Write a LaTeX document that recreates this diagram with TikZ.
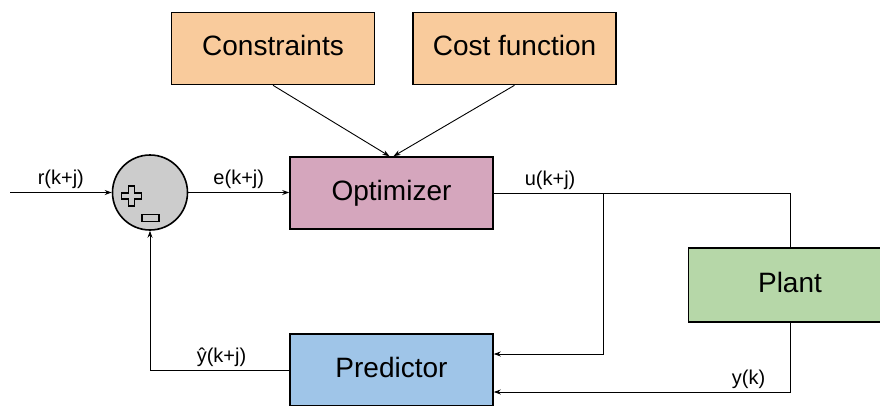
\documentclass[tikz,border=0pt]{standalone}
\usepackage{fontspec}
\setmainfont{Liberation Sans}
\usetikzlibrary{arrows.meta}

\definecolor{orangefill}{HTML}{F9CB9C}
\definecolor{optfill}{HTML}{D5A6BD}
\definecolor{plantfill}{HTML}{B6D7A8}
\definecolor{predfill}{HTML}{9FC5E8}
\definecolor{sumfill}{HTML}{CCCCCC}

\tikzset{
  block/.style={draw, line width=1.6pt, minimum width=203pt, minimum height=72pt,
                text height=20pt, text depth=6pt, font=\fontsize{28}{32}\selectfont},
  wire/.style={line width=0.9pt},
  sig/.style={wire, -{Stealth[length=7pt,width=5pt]}},
  lbl/.style={font=\fontsize{20}{24}\selectfont},
  signmark/.style={line width=1.1pt},
}

\begin{document}
\begin{tikzpicture}[x=1pt,y=-1pt]
	\useasboundingbox (0,0) rectangle (880,405);
	\clip (0,0) rectangle (880,405);
	%% blocks
	\node[block, fill=orangefill] (cons) at (273,48.5) {Constraints};
	\node[block, fill=orangefill] (cost) at (514.5,48.5) {Cost function};
	\node[block, fill=optfill] (opt) at (391.5,193) {Optimizer};
	\node[block, fill=plantfill, minimum height=74pt] (plant) at (790,285) {Plant};
	\node[block, fill=predfill] (pred) at (391.5,370) {Predictor};
	%% summing junction
	\node[circle, draw, line width=1.6pt, fill=sumfill, minimum size=75pt] (sum) at (150,192.5) {};
	\draw[signmark] ([shift={(-18.5,3.5)}]sum.center) ++(-3,-10) -- ++(6,0) -- ++(0,7) -- ++(7,0)
	  -- ++(0,6) -- ++(-7,0) -- ++(0,7) -- ++(-6,0) -- ++(0,-7) -- ++(-7,0) -- ++(0,-6) -- ++(7,0) -- cycle;
	\draw[signmark] ([shift={(-8,22)}]sum.center) rectangle ++(17,7);
	%% reference and error
	\coordinate (in) at (10,192.5);
	\draw[sig] (in) -- node[lbl, above] {r(k+j)} (sum.west);
	\draw[sig] (sum.east) -- node[lbl, above] {e(k+j)} (sum.east -| opt.west);
	\draw[sig] (cons.south) -- ([xshift=-2pt]opt.north);
	\draw[sig] (cost.south) -- ([xshift=2pt]opt.north);
	%% control signal to plant and predictor
	\coordinate (branch) at (603,193);
	\draw[wire] (opt.east) -- node[lbl, above, pos=0.19] {u(k+j)} (opt.east -| plant.north) -- (plant.north);
	\draw[sig] (branch) |- ([yshift=16pt]pred.east);
	\draw[sig] (plant.south) |- node[lbl, above, pos=0.57] {y(k)} ([yshift=-22pt]pred.east);
	%% prediction fed back
	\draw[sig] (pred.west) -| node[lbl, above, pos=0.243] {ŷ(k+j)} (sum.south);
\end{tikzpicture}
\end{document}
